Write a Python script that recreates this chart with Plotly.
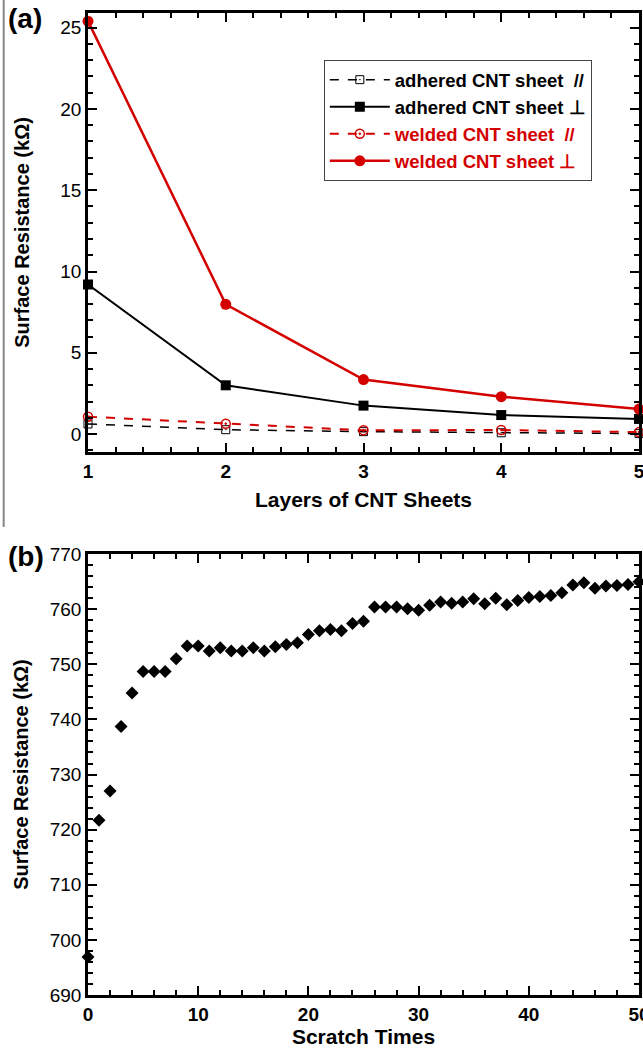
import plotly.graph_objects as go

# ---- Panel (a) data ----
layers = [1, 2, 3, 4, 5]
adhered_par = [0.62, 0.27, 0.15, 0.08, 0.03]
adhered_perp = [9.2, 3.0, 1.75, 1.17, 0.93]
welded_par = [1.07, 0.64, 0.23, 0.25, 0.12]
welded_perp = [25.4, 7.98, 3.35, 2.3, 1.54]

# ---- Panel (b) data ----
scratch_times = list(range(51))
scratch_res = [696.9, 721.7, 727.0, 738.7, 744.8, 748.7, 748.7, 748.7, 751.0, 753.3,
               753.3, 752.4, 753.0, 752.4, 752.4, 753.0, 752.4, 753.2, 753.6, 753.9,
               755.4, 756.1, 756.3, 756.1, 757.4, 757.8, 760.4, 760.4, 760.4, 760.1,
               759.8, 760.7, 761.3, 761.1, 761.3, 761.9, 761.0, 762.0, 760.8, 761.6,
               762.1, 762.3, 762.5, 763.0, 764.4, 764.8, 763.8, 764.2, 764.3, 764.5,
               765.0]

RED = "#d40000"
FONT = "Liberation Sans, Arial, sans-serif"

fig = go.Figure()

fig.add_trace(go.Scatter(
    x=layers, y=adhered_par, mode="lines+markers", name="adhered CNT sheet  //",
    line=dict(color="black", width=1.5, dash="dash"),
    marker=dict(symbol="square-open-dot", size=8, color="black", line=dict(width=1)),
    cliponaxis=False, xaxis="x", yaxis="y"))
fig.add_trace(go.Scatter(
    x=layers, y=adhered_perp, mode="lines+markers", name="adhered CNT sheet ⊥",
    line=dict(color="black", width=2),
    marker=dict(symbol="square", size=10, color="black"),
    cliponaxis=False, xaxis="x", yaxis="y"))
fig.add_trace(go.Scatter(
    x=layers, y=welded_par, mode="lines+markers",
    name="<span style='color:%s'>welded CNT sheet  //</span>" % RED,
    line=dict(color=RED, width=2, dash="dash"),
    marker=dict(symbol="circle-open-dot", size=9, color=RED, line=dict(width=1.5)),
    cliponaxis=False, xaxis="x", yaxis="y"))
fig.add_trace(go.Scatter(
    x=layers, y=welded_perp, mode="lines+markers",
    name="<span style='color:%s'>welded CNT sheet ⊥</span>" % RED,
    line=dict(color=RED, width=2.5),
    marker=dict(symbol="circle", size=11, color=RED),
    cliponaxis=False, xaxis="x", yaxis="y"))

fig.add_trace(go.Scatter(
    x=scratch_times, y=scratch_res, mode="markers", showlegend=False,
    marker=dict(symbol="diamond", size=10, color="black"),
    cliponaxis=False, xaxis="x2", yaxis="y2"))

axis_common = dict(
    showline=True, linewidth=2.5, linecolor="black", mirror="ticks",
    ticks="inside", ticklen=9, tickwidth=2, tickcolor="black",
    showgrid=False, zeroline=False, ticklabeloverflow="allow", automargin=False,
)
tickfont_bold = dict(family=FONT, size=19, color="black", weight="bold")
tickfont_reg = dict(family=FONT, size=19, color="black")
title_font = dict(family=FONT, size=21, color="black", weight="bold")
ytitle_font = dict(family=FONT, size=20, color="black", weight="bold")

fig.update_layout(
    width=643, height=1048,
    margin=dict(l=88, r=4, t=13, b=53),
    paper_bgcolor="white", plot_bgcolor="white",
    font=dict(family=FONT, color="black"),
    xaxis=dict(**axis_common, domain=[0, 1], anchor="y", range=[1, 5],
               tick0=1, dtick=1,
               minor=dict(ticks="inside", ticklen=5, tickwidth=2, tickcolor="black", dtick=0.2),
               tickfont=tickfont_bold,
               title=dict(text="Layers of CNT Sheets", font=title_font, standoff=12)),
    yaxis=dict(**axis_common, domain=[0.553, 1], anchor="x", range=[-1.1, 25.9],
               tick0=0, dtick=5,
               minor=dict(ticks="inside", ticklen=5, tickwidth=2, tickcolor="black", dtick=1),
               tickfont=tickfont_reg,
               title=dict(text="Surface Resistance (kΩ)", font=ytitle_font, standoff=26)),
    xaxis2=dict(**axis_common, domain=[0, 1], anchor="y2", range=[0, 50],
                tick0=0, dtick=10,
                minor=dict(ticks="inside", ticklen=5, tickwidth=2, tickcolor="black", dtick=2),
                tickfont=tickfont_bold,
                title=dict(text="Scratch Times", font=title_font, standoff=6)),
    yaxis2=dict(**axis_common, domain=[0, 0.449], anchor="x2", range=[690, 770],
                tick0=690, dtick=10,
                minor=dict(ticks="inside", ticklen=5, tickwidth=2, tickcolor="black", dtick=2),
                tickfont=tickfont_reg,
                title=dict(text="Surface Resistance (kΩ)", font=ytitle_font, standoff=16)),
    legend=dict(x=0.428, y=0.952, xanchor="left", yanchor="top",
                bgcolor="white", bordercolor="#444", borderwidth=1,
                font=dict(family=FONT, size=18.5, color="black", weight="bold"),
                itemwidth=60, tracegroupgap=0),
    annotations=[
        dict(text="<b>(a)</b>", xref="paper", yref="paper", x=-0.148, y=0.994,
             xanchor="left", yanchor="middle", showarrow=False,
             font=dict(family=FONT, size=28, color="black")),
        dict(text="<b>(b)</b>", xref="paper", yref="paper", x=-0.148, y=0.447,
             xanchor="left", yanchor="middle", showarrow=False,
             font=dict(family=FONT, size=28, color="black")),
    ],
    shapes=[
        dict(type="line", xref="paper", yref="paper", x0=-0.153, x1=-0.153,
             y0=0.4766, y1=1.02, line=dict(color="#888", width=2)),
    ],
)

fig.write_html("out.html", config={"displayModeBar": False},
               post_script="document.body.style.margin='0';document.body.style.overflow='hidden';")
